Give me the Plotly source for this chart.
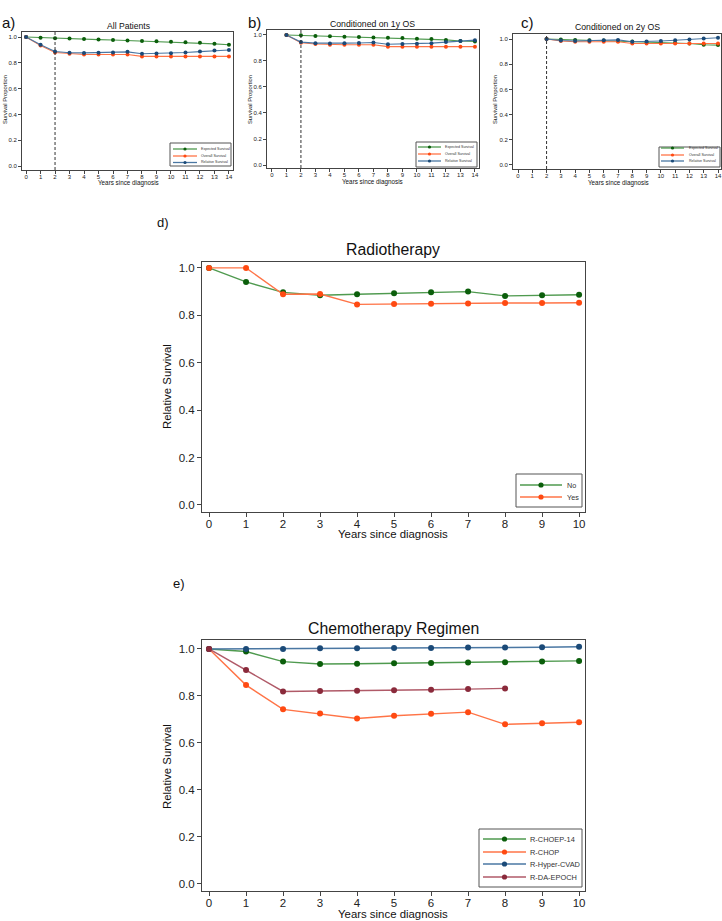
import plotly.graph_objects as go

W, H = 722, 921

# ---------------- data ----------------
years14 = list(range(0, 15))
a_expected = [1.0, 0.995, 0.99, 0.988, 0.985, 0.98, 0.977, 0.973, 0.97, 0.967, 0.963, 0.96, 0.955, 0.947, 0.94]
a_overall = [1.0, 0.935, 0.88, 0.87, 0.865, 0.865, 0.865, 0.865, 0.85, 0.85, 0.85, 0.85, 0.85, 0.85, 0.85]
a_relative = [1.0, 0.94, 0.888, 0.878, 0.877, 0.878, 0.88, 0.885, 0.87, 0.872, 0.875, 0.88, 0.887, 0.895, 0.9]

years_b = list(range(1, 15))
b_expected = [1.0, 0.997, 0.992, 0.99, 0.986, 0.984, 0.981, 0.978, 0.976, 0.971, 0.968, 0.962, 0.954, 0.95]
b_overall = [1.0, 0.94, 0.93, 0.925, 0.925, 0.925, 0.925, 0.91, 0.91, 0.91, 0.91, 0.91, 0.91, 0.91]
b_relative = [1.0, 0.945, 0.937, 0.935, 0.937, 0.938, 0.942, 0.928, 0.93, 0.933, 0.937, 0.945, 0.953, 0.96]

years_c = list(range(2, 15))
c_expected = [1.0, 0.997, 0.993, 0.99, 0.988, 0.985, 0.98, 0.977, 0.973, 0.97, 0.965, 0.955, 0.952]
c_overall = [1.0, 0.985, 0.978, 0.978, 0.978, 0.978, 0.965, 0.965, 0.965, 0.965, 0.965, 0.965, 0.965]
c_relative = [1.0, 0.988, 0.985, 0.987, 0.99, 0.993, 0.978, 0.98, 0.985, 0.99, 0.997, 1.005, 1.01]

years10 = list(range(0, 11))
radio_no = [1.0, 0.941, 0.897, 0.885, 0.889, 0.893, 0.897, 0.9, 0.882, 0.885, 0.887]
radio_yes = [1.0, 1.0, 0.889, 0.89, 0.846, 0.848, 0.849, 0.85, 0.852, 0.852, 0.853]

years8 = list(range(0, 9))
chemo_choep14 = [1.0, 0.989, 0.946, 0.936, 0.937, 0.939, 0.94, 0.942, 0.943, 0.946, 0.949]
chemo_chop = [1.0, 0.846, 0.743, 0.725, 0.704, 0.716, 0.724, 0.731, 0.679, 0.684, 0.688]
chemo_hyper = [1.0, 1.0, 1.0, 1.003, 1.003, 1.004, 1.004, 1.006, 1.006, 1.007, 1.009]
chemo_epoch = [1.0, 0.91, 0.819, 0.821, 0.822, 0.824, 0.826, 0.829, 0.832]

small_names = ["Expected Survival", "Overall Survival", "Relative Survival"]
radio_names = ["No", "Yes"]
chemo_names = ["R-CHOEP-14", "R-CHOP", "R-Hyper-CVAD", "R-DA-EPOCH"]

yticks = [0.0, 0.2, 0.4, 0.6, 0.8, 1.0]
yticklabels = ["0.0", "0.2", "0.4", "0.6", "0.8", "1.0"]

# ---------------- styles ----------------
GREEN = ("#4f9a4f", "#0b5e0b")
ORANGE = ("#ff7447", "#ff4a12")
BLUE = ("#4a77a3", "#1b4a78")
MAROON = ("#b05a68", "#8a2a3b")
FONT = "Liberation Sans, Arial, sans-serif"
AXC = "#444444"

fig = go.Figure()


def px_x(p):
    return p / W


def px_y(p):
    return 1 - p / H


def add(xs, ys, name, col, ax, msize, lw):
    fig.add_trace(go.Scatter(
        x=xs, y=ys, name=name, mode="lines+markers",
        line=dict(color=col[0], width=lw),
        marker=dict(color=col[1], size=msize, symbol="circle"),
        xaxis="x" + ax, yaxis="y" + ax, showlegend=False,
    ))


small = [
    ("", years14, a_expected, a_overall, a_relative),
    ("2", years_b, b_expected, b_overall, b_relative),
    ("3", years_c, c_expected, c_overall, c_relative),
]
for ax, xs, e, o, r in small:
    add(xs, e, small_names[0], GREEN, ax, 4, 1.1)
    add(xs, o, small_names[1], ORANGE, ax, 4, 1.1)
    add(xs, r, small_names[2], BLUE, ax, 4, 1.1)

add(years10, radio_no, radio_names[0], GREEN, "4", 6, 1.4)
add(years10, radio_yes, radio_names[1], ORANGE, "4", 6, 1.4)

add(years10, chemo_choep14, chemo_names[0], GREEN, "5", 6, 1.4)
add(years10, chemo_chop, chemo_names[1], ORANGE, "5", 6, 1.4)
add(years10, chemo_hyper, chemo_names[2], BLUE, "5", 6, 1.4)
add(years8, chemo_epoch, chemo_names[3], MAROON, "5", 6, 1.4)

# panel geometry in pixels: left, right, top, bottom, xrange, yrange, xmax
panels = {
    "": (22, 233, 32, 170, [-0.28, 14.28], [-0.031, 1.039], 14),
    "2": (267, 479, 30, 168, [-0.34, 14.28], [-0.023, 1.038], 14),
    "3": (513, 721, 34, 169, [-0.35, 14.21], [-0.032, 1.04], 14),
    "4": (202, 585, 262, 512, [-0.19, 10.16], [-0.03, 1.025], 10),
    "5": (202, 585, 640, 891, [-0.19, 10.16], [-0.03, 1.038], 10),
}

layout = dict(
    width=W, height=H, margin=dict(l=0, r=0, t=0, b=0),
    paper_bgcolor="white", plot_bgcolor="white",
    font=dict(family=FONT, color="#222222"),
    showlegend=False,
)

for ax, (l, r, t, b, xr, yr, xmax) in panels.items():
    big = ax in ("4", "5")
    tf = 11.5 if big else 6
    common = dict(
        ticks="outside", ticklen=4 if big else 3, tickcolor=AXC, tickwidth=1,
        showline=True, linecolor=AXC, linewidth=1, mirror=True,
        showgrid=False, zeroline=False,
        tickfont=dict(size=tf, color="#222"),
    )
    layout["xaxis" + ax] = dict(
        domain=[px_x(l), px_x(r)], range=xr, anchor="y" + ax,
        tickmode="array", tickvals=list(range(0, xmax + 1)),
        ticktext=[str(v) for v in range(0, xmax + 1)],
        ticklabelstandoff=-3 if big else -2, **common,
    )
    layout["yaxis" + ax] = dict(
        domain=[px_y(b), px_y(t)], range=yr, anchor="x" + ax,
        tickmode="array", tickvals=yticks, ticktext=yticklabels, **common,
    )

fig.update_layout(**layout)

# dashed vertical line at year 2 in panels a-c
for ax in ["", "2", "3"]:
    fig.add_shape(type="line", xref="x" + ax, yref="y" + ax + " domain",
                  x0=2, x1=2, y0=0, y1=1,
                  line=dict(color="#333333", width=1, dash="3px,2px"))

# titles, axis titles and panel labels: (text, x, y, size, angle)
texts = [
    ("All Patients", 128, 26, 8.6, 0),
    ("Conditioned on 1y OS", 373, 24, 8.7, 0),
    ("Conditioned on 2y OS", 617, 27, 8.7, 0),
    ("Radiotherapy", 393, 249, 15.8, 0),
    ("Chemotherapy Regimen", 393, 628, 15.8, 0),
    ("a)", 8, 22, 15, 0),
    ("b)", 254, 22, 15, 0),
    ("c)", 527, 22, 15, 0),
    ("d)", 163, 222, 13, 0),
    ("e)", 179, 583, 13, 0),
    ("Years since diagnosis", 128, 183, 6.3, 0),
    ("Years since diagnosis", 373, 182, 6.3, 0),
    ("Years since diagnosis", 618, 183, 6.3, 0),
    ("Years since diagnosis", 393, 534, 11.4, 0),
    ("Years since diagnosis", 393, 914, 11.4, 0),
    ("Survival Proportion", 5, 100, 5.8, -90),
    ("Survival Proportion", 250, 100, 5.8, -90),
    ("Survival Proportion", 495, 100, 5.8, -90),
    ("Relative Survival", 167, 387, 11.4, -90),
    ("Relative Survival", 167, 767, 11.4, -90),
]
for txt, x, y, fs, ang in texts:
    fig.add_annotation(text=txt, x=px_x(x), y=px_y(y), xref="paper", yref="paper",
                       showarrow=False, xanchor="center", yanchor="middle",
                       textangle=ang,
                       font=dict(size=fs, color="#111", family=FONT))

# custom legends: box (l, r, t, b), row ys, line x0, x1, text x, font size, marker radius
legends = [
    ((170, 231, 143, 166), [149, 156, 162.5], 173, 197, 199, 3.6, 1.6, small_names, [GREEN, ORANGE, BLUE]),
    ((416, 477, 142, 167), [147, 154, 161], 418, 441, 443, 3.6, 1.6, small_names, [GREEN, ORANGE, BLUE]),
    ((659, 720, 147, 167), [148, 155, 161], 661, 684, 687, 3.6, 1.6, small_names, [GREEN, ORANGE, BLUE]),
    ((516, 582, 474, 507), [485, 497], 520, 562, 565, 7.2, 2.6, radio_names, [GREEN, ORANGE]),
    ((479, 582, 829, 887), [839, 852, 864, 877], 483, 526, 528, 7.4, 2.6, chemo_names,
     [GREEN, ORANGE, BLUE, MAROON]),
]
for (bl, br, bt, bb), rows, lx0, lx1, tx, fs, mr, names, cols in legends:
    fig.add_shape(type="rect", xref="paper", yref="paper",
                  x0=px_x(bl), x1=px_x(br), y0=px_y(bb), y1=px_y(bt),
                  line=dict(color="#555555", width=1), fillcolor="white", layer="above")
    for ry, nm, col in zip(rows, names, cols):
        fig.add_shape(type="line", xref="paper", yref="paper",
                      x0=px_x(lx0), x1=px_x(lx1), y0=px_y(ry), y1=px_y(ry),
                      line=dict(color=col[0], width=1.3), layer="above")
        mx = (lx0 + lx1) / 2
        fig.add_shape(type="circle", xref="paper", yref="paper",
                      x0=px_x(mx - mr), x1=px_x(mx + mr), y0=px_y(ry + mr), y1=px_y(ry - mr),
                      line=dict(color=col[1], width=0), fillcolor=col[1], layer="above")
        fig.add_annotation(text=nm, x=px_x(tx), y=px_y(ry), xref="paper", yref="paper",
                           showarrow=False, xanchor="left", yanchor="middle",
                           font=dict(size=fs, color="#333", family=FONT))

fig.write_html(
    "out.html",
    config={"displayModeBar": False},
    post_script="document.body.style.margin='0';document.body.style.overflow='hidden';",
)
